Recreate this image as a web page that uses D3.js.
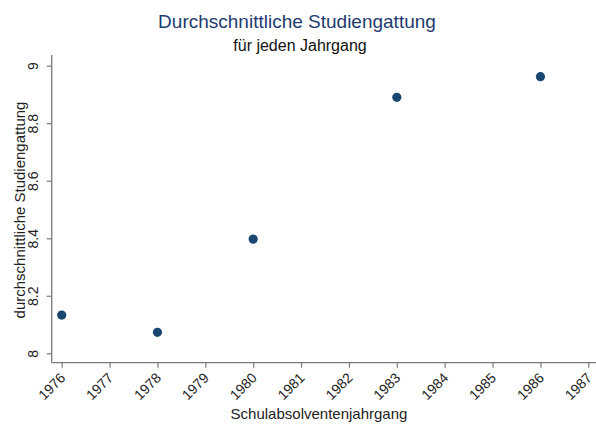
<!DOCTYPE html>
<html><head><meta charset="utf-8">
<script src="https://cdn.jsdelivr.net/npm/d3@7"></script>
<style>body{margin:0;background:#fff}svg{display:block}text{font-family:"Liberation Sans",Arial,sans-serif}</style>
</head><body><svg id="c" width="596" height="426"></svg>
<script>
const years = [1976, 1978, 1980, 1983, 1986];
const values = [8.133, 8.073, 8.397, 8.890, 8.962];
const xTicks = [1976,1977,1978,1979,1980,1981,1982,1983,1984,1985,1986,1987];
const yTicks = [8, 8.2, 8.4, 8.6, 8.8, 9];
const yTickLabels = ["8","8.2","8.4","8.6","8.8","9"];

const svg = d3.select("#c");
const x = d3.scaleLinear().domain([1976, 1987]).range([61.7, 588.3]);
const y = d3.scaleLinear().domain([8, 9]).range([353.3, 65.7]);
const axisColor = "#7a7a7a";
const left = 51.7, bottom = 362.7;

svg.append("line").attr("x1", left).attr("x2", left).attr("y1", 55).attr("y2", bottom).attr("stroke", axisColor).attr("stroke-width", 1.3);
svg.append("line").attr("x1", left).attr("x2", 596).attr("y1", bottom).attr("y2", bottom).attr("stroke", axisColor).attr("stroke-width", 1.3);

const ya = svg.append("g").attr("transform", `translate(${left},0)`)
  .call(d3.axisLeft(y).tickValues(yTicks).tickFormat((d,i)=>yTickLabels[i]).tickSize(5));
ya.select(".domain").remove();
ya.selectAll(".tick line").attr("stroke", axisColor).attr("stroke-width", 1.2);
ya.selectAll(".tick text").attr("x", null).attr("dy", null)
  .attr("text-anchor", "middle").attr("fill", "#222").style("font-size", "14px")
  .attr("transform", "translate(-14,0) rotate(-90)");

const xa = svg.append("g").attr("transform", `translate(0,${bottom})`)
  .call(d3.axisBottom(x).tickValues(xTicks).tickFormat(d3.format("d")).tickSize(5));
xa.select(".domain").remove();
xa.selectAll(".tick line").attr("stroke", axisColor).attr("stroke-width", 1.2);
xa.selectAll(".tick text").attr("y", null).attr("dy", null).attr("text-anchor", "end")
  .attr("fill", "#222").style("font-size", "14px")
  .attr("transform", "translate(4,16) rotate(-45)");

svg.append("g").selectAll("circle").data(years).join("circle")
  .attr("cx", (d)=>x(d)).attr("cy", (d,i)=>y(values[i])).attr("r", 4.6).attr("fill", "#1a476f");

svg.append("text").attr("x", 297).attr("y", 28).attr("text-anchor", "middle")
  .attr("fill", "#1e3b6e").style("font-size", "19px").text("Durchschnittliche Studiengattung");
svg.append("text").attr("x", 300).attr("y", 51).attr("text-anchor", "middle")
  .attr("fill", "#111").style("font-size", "16px").text("für jeden Jahrgang");
svg.append("text").attr("transform", "translate(25,210) rotate(-90)").attr("text-anchor", "middle")
  .attr("fill", "#222").style("font-size", "15px").text("durchschnittliche Studiengattung");
svg.append("text").attr("x", 319).attr("y", 419).attr("text-anchor", "middle")
  .attr("fill", "#222").style("font-size", "15px").text("Schulabsolventenjahrgang");
</script></body></html>
